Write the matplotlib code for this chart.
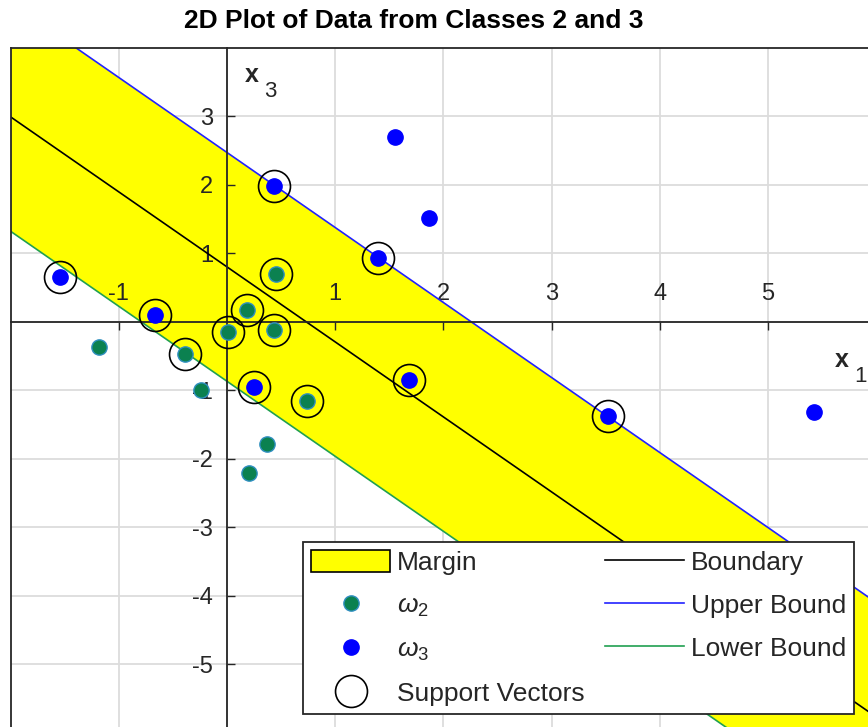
import numpy as np
import matplotlib
matplotlib.use('Agg')
import matplotlib.pyplot as plt
from matplotlib.patches import Patch, Rectangle
from matplotlib.lines import Line2D

plt.rcParams['font.family'] = ['Liberation Sans', 'DejaVu Sans']
plt.rcParams['mathtext.fontset'] = 'custom'
plt.rcParams['mathtext.rm'] = 'Liberation Sans'
plt.rcParams['mathtext.it'] = 'Liberation Sans:italic'
plt.rcParams['mathtext.bf'] = 'Liberation Sans:bold'

# ---------------- data ----------------
w2_x = [-1.18, -0.388, 0.012, 0.182, 0.453, 0.434, -0.243, 0.737, 0.367, 0.206]
w2_y = [-0.374, -0.47, -0.146, 0.171, 0.696, -0.121, -0.997, -1.153, -1.79, -2.204]
w3_x = [1.553, 1.867, 0.434, 1.398, -1.543, -0.665, 0.25, 1.685, 3.524, 5.425]
w3_y = [2.70, 1.52, 1.985, 0.934, 0.648, 0.098, -0.958, -0.851, -1.377, -1.32]
sv_x = [0.434, 1.398, -1.543, -0.665, 0.25, 1.685, 3.524,
        -0.388, 0.012, 0.182, 0.453, 0.434, 0.737]
sv_y = [1.985, 0.934, 0.648, 0.098, -0.958, -0.851, -1.377,
        -0.47, -0.146, 0.171, 0.696, -0.121, -1.153]
slope = -1.095
b_boundary = 0.80
b_upper = 2.47
b_lower = -0.87
x_ticks = [-1, 1, 2, 3, 4, 5]
y_ticks = [-5, -4, -3, -2, -1, 1, 2, 3]
grid_x = [-1, 0, 1, 2, 3, 4, 5]
grid_y = [-5, -4, -3, -2, -1, 0, 1, 2, 3]
xlim = (-2, 6)
ylim = (-6, 4)

W, H = 868, 727
fig = plt.figure(figsize=(W / 100, H / 100), dpi=100)
ax = fig.add_axes([10.6 / W, (H - 732.7) / H, 865.6 / W, 685 / H])
ax.set_xlim(*xlim)
ax.set_ylim(*ylim)

axc = '#262626'
# grid
for gx in grid_x:
    ax.axvline(gx, color='#dcdcdc', lw=1.3, zorder=0.5)
for gy in grid_y:
    ax.axhline(gy, color='#dcdcdc', lw=1.3, zorder=0.5)

xs = np.array(xlim, dtype=float)
up = b_upper + slope * xs
lo = b_lower + slope * xs
bd = b_boundary + slope * xs
ax.fill_between(xs, lo, up, color='#ffff00', lw=0, zorder=1)
ax.plot(xs, bd, color='black', lw=1.2, zorder=2)
ax.plot(xs, up, color='#2222ff', lw=1.2, zorder=2)
ax.plot(xs, lo, color='#20a050', lw=1.2, zorder=2)

ax.plot(w2_x, w2_y, 'o', ms=11, mfc='#0b8150', mec='#2f8fc0', mew=1.0,
        ls='none', zorder=3)
ax.plot(w3_x, w3_y, 'o', ms=11, mfc='#0000ff', mec='#0000ff', mew=1.0,
        ls='none', zorder=3)
ax.plot(sv_x, sv_y, 'o', ms=23, mfc='none', mec='black', mew=1.2,
        ls='none', zorder=3.5)

# origin axes
for s in ['right', 'bottom']:
    ax.spines[s].set_visible(False)
ax.spines['left'].set_position(('data', 0))
ax.spines['top'].set_position(('data', 0))
ax.spines['left'].set_color(axc)
ax.spines['top'].set_color(axc)
ax.spines['left'].set_linewidth(1.3)
ax.spines['top'].set_linewidth(1.3)
ax.xaxis.set_ticks_position('top')
ax.yaxis.set_ticks_position('left')
ax.set_xticks(x_ticks)
ax.set_yticks(y_ticks)
ax.set_xticklabels([str(t) for t in x_ticks])
ax.set_yticklabels([str(t) for t in y_ticks])
ax.tick_params(axis='x', direction='in', length=5.5, width=1.0, color=axc,
               labelsize=17, labelcolor=axc, pad=12)
ax.tick_params(axis='y', direction='in', length=5.5, width=1.0, color=axc,
               labelsize=17, labelcolor=axc, pad=10)
for lab in ax.get_yticklabels():
    lab.set_verticalalignment('center_baseline')

# frame (left and top box edges)
ax.plot([0, 0], [0, 1], transform=ax.transAxes, color=axc, lw=1.3,
        clip_on=False, zorder=4)
ax.plot([0, 1], [1, 1], transform=ax.transAxes, color=axc, lw=1.3,
        clip_on=False, zorder=4)

# axis labels
fig.text(251.7 / W, 1 - 75 / H, 'x', fontsize=18, fontweight='bold',
         color=axc, ha='center', va='center')
fig.text(270 / W, 1 - 91.7 / H, '3', fontsize=16, color=axc,
         ha='center', va='center')
fig.text(841.7 / W, 1 - 360 / H, 'x', fontsize=18, fontweight='bold',
         color=axc, ha='center', va='center')
fig.text(860 / W, 1 - 377 / H, '1', fontsize=16, color=axc,
         ha='center', va='center')

# title
fig.text(414 / W, 1 - 21.5 / H, '2D Plot of Data from Classes 2 and 3',
         fontsize=19, fontweight='bold', ha='center', va='center',
         color='black')

# legend
handles = [
    Patch(facecolor='#ffff00', edgecolor='black', lw=1.2),
    Line2D([], [], ls='none', marker='o', ms=11, mfc='#0b8150', mec='#2f8fc0'),
    Line2D([], [], ls='none', marker='o', ms=11, mfc='#0000ff', mec='#0000ff'),
    Line2D([], [], ls='none', marker='o', ms=23, mfc='none', mec='black', mew=1.2),
    Line2D([], [], color='black', lw=1.2),
    Line2D([], [], color='#2222ff', lw=1.2),
    Line2D([], [], color='#20a050', lw=1.2),
]
labels = ['Margin', r'$\omega_2$', r'$\omega_3$', 'Support Vectors',
          'Boundary', 'Upper Bound', 'Lower Bound']
leg = fig.legend(handles, labels, ncol=2, loc='upper left',
                 bbox_to_anchor=(303 / W, 1 - 542 / H), borderaxespad=0,
                 fontsize=19, frameon=True, fancybox=False, framealpha=1,
                 edgecolor=axc, handlelength=3.0, handleheight=0.9,
                 handletextpad=0.27, borderpad=0.3, columnspacing=0.76,
                 labelspacing=0.68)
leg.get_frame().set_linewidth(1.3)
for t in leg.get_texts():
    t.set_color(axc)

fig.savefig('out.png', dpi=100, facecolor='white')
